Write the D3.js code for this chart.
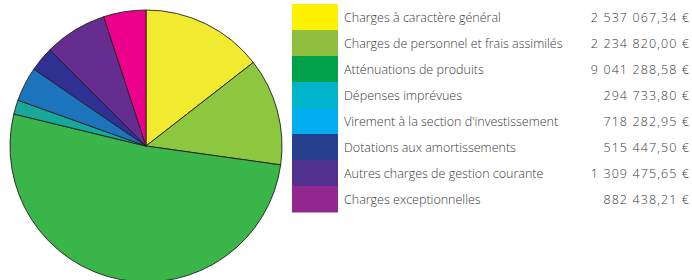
<!DOCTYPE html>
<html><head><meta charset="utf-8">
<script src="https://cdn.jsdelivr.net/npm/d3@7"></script>
<style>body{margin:0;background:#fff;} text{font-family:"Open Sans",sans-serif;font-weight:300;}</style>
</head><body><svg id="c" width="692" height="280"></svg>
<script>
const categories = ["Charges à caractère général","Charges de personnel et frais assimilés","Atténuations de produits","Dépenses imprévues","Virement à la section d'investissement","Dotations aux amortissements","Autres charges de gestion courante","Charges exceptionnelles"];
const values = [2537067.34, 2234820.00, 9041288.58, 294733.80, 718282.95, 515447.50, 1309475.65, 882438.21];
const valueLabels = ["2 537 067,34 €","2 234 820,00 €","9 041 288,58 €","294 733,80 €","718 282,95 €","515 447,50 €","1 309 475,65 €","882 438,21 €"];
const pieColors = ["#F2EA2F","#8DC63F","#39B54A","#17A89A","#1C75BC","#2E3192","#662D91","#EC008C"];
const legendColors = ["#FFF200","#8EBF3F","#00A14B","#00B4CC","#00AEEF","#263F8F","#51318F","#92278F"];

const svg = d3.select("#c");
const data = categories.map((c,i)=>({c, v:values[i], i}));
const pie = d3.pie().sort(null).value(d=>d.v);
const arc = d3.arc().innerRadius(0).outerRadius(136);
svg.append("g").attr("transform","translate(146,146)")
  .selectAll("path").data(pie(data)).join("path")
  .attr("d", arc).attr("fill", d=>pieColors[d.data.i])
  .attr("stroke","#231F20").attr("stroke-width",0.9).attr("stroke-linejoin","round");

const y = d3.scaleBand().domain(d3.range(categories.length)).range([4, 212]).padding(0);
const lg = svg.append("g");
const rows = lg.selectAll("g").data(data).join("g").attr("transform", d=>`translate(0,${y(d.i)})`);
rows.append("rect").attr("x",292).attr("width",46).attr("height",y.bandwidth()+0.5).attr("fill",d=>legendColors[d.i]);
rows.append("text").attr("x",344).attr("y",y.bandwidth()/2+0.5).attr("dy","0.35em")
  .attr("font-size",12.5).attr("fill","#3a3a3a").text(d=>d.c);
rows.append("text").attr("x",690).attr("y",y.bandwidth()/2+0.5).attr("dy","0.35em").attr("text-anchor","end")
  .attr("font-size",12.5).attr("letter-spacing",1.1).attr("fill","#3a3a3a").text(d=>valueLabels[d.i]);
</script></body></html>
